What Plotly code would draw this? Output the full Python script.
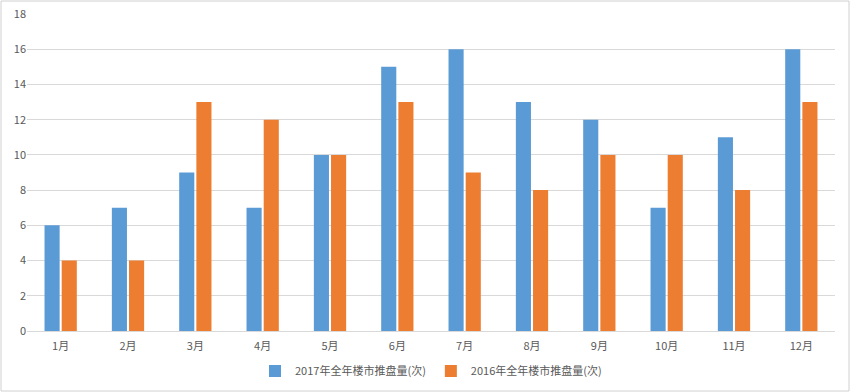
import plotly.graph_objects as go

months = ["1月", "2月", "3月", "4月", "5月", "6月", "7月", "8月", "9月", "10月", "11月", "12月"]
s2017_name = "2017年全年楼市推盘量(次)"
s2016_name = "2016年全年楼市推盘量(次)"
s2017 = [6, 7, 9, 7, 10, 15, 16, 13, 12, 7, 11, 16]
s2016 = [4, 4, 13, 12, 10, 13, 9, 8, 10, 10, 8, 13]
y_ticks = [0, 2, 4, 6, 8, 10, 12, 14, 16, 18]

W, H = 850, 392
ml, mr, mt, mb = 27, 15, 14, 61
pw = W - ml - mr
ph = H - mt - mb

fig = go.Figure()
fig.add_trace(go.Bar(x=months, y=s2017, name=s2017_name, marker=dict(color="#5B9BD5", line=dict(width=0))))
fig.add_trace(go.Bar(x=months, y=s2016, name=s2016_name, marker=dict(color="#ED7D31", line=dict(width=0))))

font = "Microsoft YaHei, Noto Sans CJK SC, sans-serif"
fig.update_layout(
    width=W, height=H,
    margin=dict(l=ml, r=mr, t=mt, b=mb, autoexpand=False),
    paper_bgcolor="white", plot_bgcolor="white",
    barmode="group", bargap=0.49, bargroupgap=0.12,
    font=dict(family=font, size=11, color="#595959"),
    showlegend=True,
    legend=dict(orientation="h", x=0.5, xanchor="center", y=-0.126, yanchor="middle",
                font=dict(size=11, color="#595959"), itemwidth=30, traceorder="normal",
                bgcolor="rgba(0,0,0,0)"),
    xaxis=dict(showgrid=False, showline=True, linecolor="#D9D9D9", linewidth=1,
               ticks="", ticklabelstandoff=5, tickfont=dict(size=11, color="#595959")),
    yaxis=dict(range=[0, 18], tickvals=y_ticks, showgrid=True, gridcolor="#D9D9D9",
               gridwidth=1, zeroline=False, showline=False, ticks="",
               tickfont=dict(size=11, color="#595959")),
)

# outer light border around the picture
fig.add_shape(type="rect", xref="paper", yref="paper",
              x0=-(ml - 1) / pw, x1=(W - ml - 1) / pw,
              y0=-(mb - 1) / ph, y1=(H - mb - 1) / ph,
              line=dict(color="#D0D0D0", width=1), layer="below")

fig.write_html("out.html", config={"displayModeBar": False},
               post_script="document.body.style.margin='0';document.body.style.overflow='hidden';")
